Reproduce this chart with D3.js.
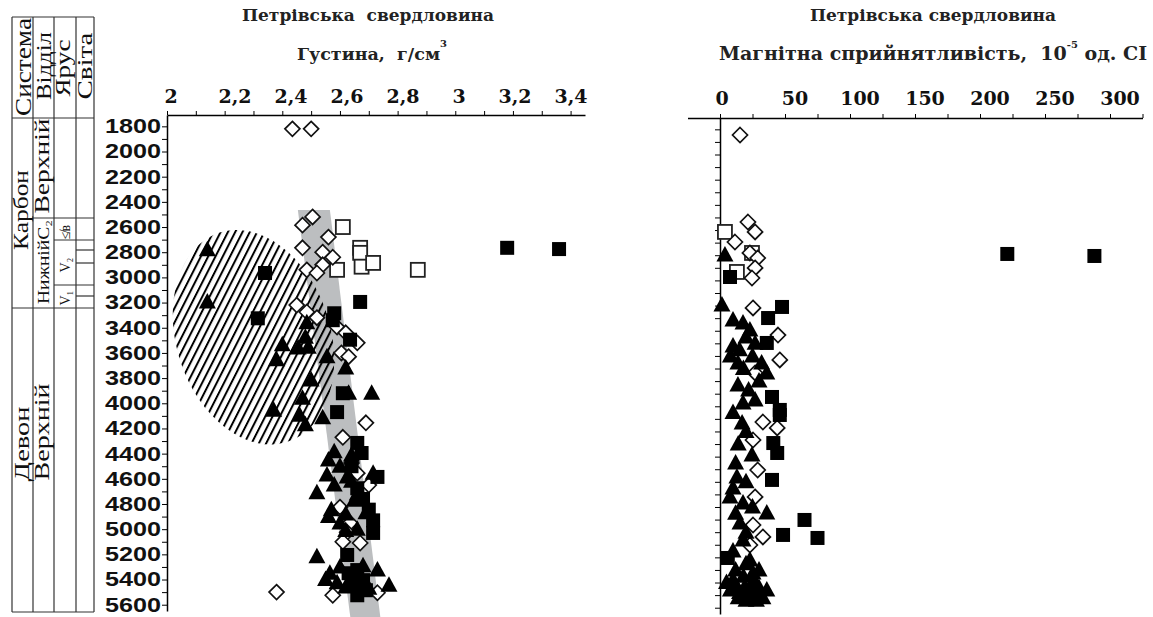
<!DOCTYPE html>
<html>
<head>
<meta charset="utf-8">
<title>Петрівська свердловина</title>
<script src="https://d3js.org/d3.v7.min.js"></script>
<style>
  body { margin: 0; background: #fff; }
  svg { font-family: "DejaVu Serif", serif; }
  .axis path, .axis line { stroke: #000; fill: none; }
  .axis path { stroke-width: 1.5; }
  .lbl { font-weight: bold; font-size: 19px; fill: #111; }
  .ylbl { font-weight: bold; font-size: 20px; fill: #111; }
  .col { font-family: "Liberation Serif", serif; fill: #111; }
  .ttl { font-weight: bold; fill: #222; white-space: pre; }
</style>
</head>
<body>
<script>
// ---- data ----
var depthTicks = d3.range(1800, 5601, 200);
var densTicks = [2, 2.2, 2.4, 2.6, 2.8, 3, 3.2, 3.4];
var densLabels = ["2", "2,2", "2,4", "2,6", "2,8", "3", "3,2", "3,4"];
var magTicks = [0, 50, 100, 150, 200, 250, 300];

// density (g/cm3) vs depth (m)
var densDiamonds = [[2.435,1820],[2.50,1820],
  [2.505,2520],[2.47,2585],[2.56,2680],[2.47,2765],[2.54,2800],[2.575,2840],[2.54,2900],[2.485,2940],[2.52,2965],
  [2.45,3220],[2.485,3275],[2.52,3320],[2.59,3395],[2.62,3440],[2.66,3520],[2.605,3600],[2.63,3630],
  [2.69,4155],[2.61,4270],[2.64,4475],[2.66,4555],[2.70,4650],[2.60,4825],[2.635,4950],[2.625,5025],[2.61,5100],[2.67,5110],
  [2.38,5500],[2.575,5525],[2.73,5505]];
var densOpenSq = [[2.61,2600],[2.67,2765],[2.67,2805],[2.675,2915],[2.715,2885],[2.59,2940],[2.87,2940]];
var densFilledSq = [[3.18,2765],[3.36,2775],[2.34,2965],[2.67,3195],[2.58,3285],[2.575,3340],[2.315,3325],[2.635,3495],
  [2.61,3920],[2.59,4070],[2.66,4315],[2.675,4395],[2.64,4500],[2.73,4585],[2.66,4675],[2.68,4760],[2.70,4845],
  [2.715,4930],[2.715,5030],[2.625,5205],[2.66,5325],[2.63,5350],[2.68,5405],[2.65,5430],[2.66,5525],[2.69,5485]];
var densTriangles = [[2.14,2780],[2.14,3195],[2.485,3360],[2.48,3475],[2.40,3535],[2.455,3560],[2.49,3555],[2.38,3655],
  [2.555,3630],[2.62,3720],[2.50,3815],[2.63,3920],[2.71,3920],[2.47,3960],[2.37,4055],[2.46,4095],[2.48,4170],[2.54,4115],
  [2.58,4385],[2.64,4410],[2.56,4450],[2.60,4500],[2.555,4570],[2.625,4585],[2.715,4555],[2.64,4620],[2.58,4650],
  [2.52,4710],[2.66,4720],[2.65,4770],[2.57,4845],[2.69,4870],[2.62,4880],[2.56,4900],[2.60,4950],[2.66,5000],
  [2.62,5010],[2.52,5220],[2.68,5290],[2.60,5300],[2.73,5325],[2.565,5350],[2.645,5380],[2.55,5400],[2.59,5425],
  [2.77,5445],[2.62,5460],[2.70,5470]];

// grey trend band and hatched field
var bandTop = 2465, bandBottom = 5700;
var bandTopX = [2.454, 2.565], bandBottomX = [2.636, 2.740];
var fieldCentre = [2.30, 3475];

// magnetic susceptibility (10^-5 SI) vs depth (m)
var magDiamonds = [[15.4,1845],[21.5,2536],[27,2615],[11.5,2695],[23,2782],[29,2822],[27,2901],[24.6,2981],[25.4,3219],
  [44.6,3434],[46,3632],[27,3735],[33,4125],[44,4172],[25.4,4268],[29,4506],[27,4720],[25.4,4943],[33,5038],[23,5102]];
var magOpenSq = [[3.8,2615],[24.6,2782],[13,2933]];
var magFilledSq = [[221,2790],[288,2806],[7.7,2973],[47.7,3211],[37,3299],[36,3497],[40,3926],[46,4029],[46,4069],
  [41,4292],[44,4371],[40,4585],[65,4903],[48.5,5022],[75,5046],[6,5205]];
var magTriangles = [[3.8,2798],[1.5,3195],[10,3314],[17.7,3338],[23,3394],[20,3450],[27,3500],[10,3521],[15,3550],
  [25,3600],[8,3600],[13.8,3656],[32,3656],[18,3700],[36,3735],[30,3800],[13.8,3831],[22,3870],[27,3950],[17.7,3974],
  [10,4050],[17,4133],[20,4200],[14,4300],[24.6,4387],[12,4450],[13,4562],[20,4600],[10,4650],[7.7,4720],[17.7,4768],
  [25,4800],[36,4848],[12,4850],[15.4,4927],[20,5000],[17.7,5062],[10,5150],[23,5221],[20,5250],[12,5300],[30,5300],
  [25.4,5324],[18,5350],[10,5380],[26,5380],[5,5400],[12,5420],[25,5420],[19,5435],[30,5440],[36,5459],[8,5460],
  [22,5460],[15,5480],[30,5500],[23,5515],[33,5520],[14,5520],[20,5540],[28,5540]];

// ---- layout ----
var W = 1153, H = 617;
var svg = d3.select("body").append("svg").attr("width", W).attr("height", H);

var y = d3.scaleLinear().domain([1710, 5650]).range([115, 611]);
var yR = d3.scaleLinear().domain([1710, 5650]).range([118, 614]);
var xD = d3.scaleLinear().domain([2, 3.45]).range([167, 585]);
var xDlab = d3.scaleLinear().domain([2.2, 3.4]).range([235, 571]);   // labels sit slightly off the ticks
var xM = d3.scaleLinear().domain([-25, 325]).range([687.5, 1142.5]);

// symbol helpers
function diamond(g, data, sx, sy) {
  g.selectAll(null).data(data).enter().append("path")
    .attr("d", "M0,-7.5L7.5,0L0,7.5L-7.5,0Z")
    .attr("transform", function (d) { return "translate(" + sx(d[0]) + "," + sy(d[1]) + ")"; })
    .attr("fill", "#fff").attr("stroke", "#111").attr("stroke-width", 1.7);
}
function square(g, data, sx, sy, filled) {
  g.selectAll(null).data(data).enter().append("rect")
    .attr("x", function (d) { return sx(d[0]) - 7; })
    .attr("y", function (d) { return sy(d[1]) - 7; })
    .attr("width", 14).attr("height", 14)
    .attr("fill", filled ? "#000" : "#fff")
    .attr("stroke", filled ? "none" : "#222").attr("stroke-width", 1.8);
}
function triangle(g, data, sx, sy) {
  g.selectAll(null).data(data).enter().append("path")
    .attr("d", "M0,-9L8.5,6.5L-8.5,6.5Z")
    .attr("transform", function (d) { return "translate(" + sx(d[0]) + "," + sy(d[1]) + ")"; })
    .attr("fill", "#000");
}

// ---- stratigraphic column ----
var colX = [12, 33, 54, 76, 94];
var strat = svg.append("g").attr("stroke", "#333").attr("stroke-width", 1.2);
colX.forEach(function (x) {
  strat.append("line").attr("x1", x).attr("x2", x).attr("y1", 17).attr("y2", 612);
});
[[17, 0, 4], [118, 0, 4], [308, 0, 4], [612, 0, 4], [218, 1, 4], [240, 2, 4], [285, 2, 4],
 [250, 3, 4], [263, 3, 4], [296, 3, 4]].forEach(function (h) {
  strat.append("line").attr("x1", colX[h[1]]).attr("x2", colX[h[2]]).attr("y1", h[0]).attr("y2", h[0]);
});

var colText = [
  ["Система", 31, 67, 98, 23], ["Відділ", 51, 66, 68, 22], ["Ярус", 70, 68, 57, 22], ["Світа", 92, 66, 67, 22],
  ["Карбон", 28, 210, 80, 22], ["Верхній", 49, 166, 95, 22], ["НижнійC₂", 49, 262, 84, 17],
  ["Девон", 29, 444, 75, 22], ["Верхній", 49, 432, 97, 22]
];
colText.forEach(function (t) {
  svg.append("text").attr("class", "col")
    .attr("transform", "translate(" + t[1] + "," + t[2] + ") rotate(-90)")
    .attr("text-anchor", "middle")
    .attr("textLength", t[3]).attr("lengthAdjust", "spacingAndGlyphs")
    .style("font-size", t[4] + "px")
    .text(t[0]);
});
[["V₁", 70, 298], ["V₂", 70, 265], ["≰в", 70, 232]].forEach(function (t) {
  svg.append("text").attr("class", "col")
    .attr("transform", "translate(" + t[1] + "," + t[2] + ") rotate(-90)")
    .attr("text-anchor", "middle").style("font-size", "14px").text(t[0]);
});

// ---- density panel ----
var gD = svg.append("g");

gD.append("path")
  .attr("d", d3.line()([[xD(bandTopX[0]), y(bandTop)], [xD(bandTopX[1]), y(bandTop)],
    [xD(bandBottomX[1]), y(bandBottom)], [xD(bandBottomX[0]), y(bandBottom)]]) + "Z")
  .attr("fill", "#bcbec0");

var defs = svg.append("defs");
defs.append("pattern").attr("id", "hatch").attr("patternUnits", "userSpaceOnUse")
  .attr("width", 6.5).attr("height", 6.5).attr("patternTransform", "rotate(-45)")
  .append("line").attr("x1", 1).attr("x2", 1).attr("y1", 0).attr("y2", 6.5)
  .attr("stroke", "#000").attr("stroke-width", 2);

gD.append("ellipse")
  .attr("rx", 110).attr("ry", 77)
  .attr("transform", "translate(" + xD(fieldCentre[0]) + "," + y(fieldCentre[1]) + ") rotate(72)")
  .attr("fill", "url(#hatch)");

gD.append("g").attr("class", "axis")
  .attr("transform", "translate(0," + y(1710) + ")")
  .call(d3.axisTop(xD).tickValues(d3.range(0, 15).map(function (i) { return 2 + i / 10; }))
    .tickSize(4).tickSizeOuter(0).tickFormat(""));
gD.append("g").attr("class", "axis")
  .attr("transform", "translate(" + xD(2) + ",0)")
  .call(d3.axisLeft(y).tickValues(d3.range(1800, 5601, 100)).tickSize(5).tickSizeOuter(0)
    .tickFormat(function (d) { return d % 200 === 0 ? d : ""; }))
  .selectAll("text").filter(function (d) { return d % 200 === 0; })
  .attr("class", "ylbl").attr("dx", 2)
  .attr("textLength", 56).attr("lengthAdjust", "spacingAndGlyphs");

gD.selectAll(".dlab").data(densTicks).enter().append("text").attr("class", "lbl")
  .attr("x", function (d, i) { return i === 0 ? xD(d) + 4 : xDlab(d); })
  .attr("y", 103).attr("text-anchor", "middle")
  .text(function (d, i) { return densLabels[i]; });

square(gD, densOpenSq, xD, y, false);
diamond(gD, densDiamonds, xD, y);
triangle(gD, densTriangles, xD, y);
square(gD, densFilledSq, xD, y, true);

svg.append("text").attr("class", "ttl").attr("x", 368).attr("y", 21)
  .attr("text-anchor", "middle").style("font-size", "17px").text("Петрівська  свердловина");
var t2 = svg.append("text").attr("class", "ttl").attr("x", 372).attr("y", 60)
  .attr("text-anchor", "middle").style("font-size", "17.5px");
t2.append("tspan").text("Густина,  г/см");
t2.append("tspan").attr("dy", -13).style("font-size", "10px").text("3");

// ---- magnetic susceptibility panel ----
var gM = svg.append("g");
gM.append("g").attr("class", "axis")
  .attr("transform", "translate(0," + yR(1710) + ")")
  .call(d3.axisTop(xM).tickValues(d3.range(0, 326, 25)).tickSize(4).tickSizeOuter(0).tickFormat(""));
gM.append("g").attr("class", "axis")
  .attr("transform", "translate(" + xM(0) + ",0)")
  .call(d3.axisLeft(yR).tickValues(d3.range(1800, 5601, 100)).tickSize(5).tickSizeOuter(0).tickFormat(""));

gM.selectAll(".mlab").data(magTicks).enter().append("text").attr("class", "lbl")
  .attr("x", function (d, i) { return xM(d) + (i === 0 ? 2 : 10); })
  .attr("y", 105).attr("text-anchor", "middle")
  .text(function (d) { return d; });

square(gM, magOpenSq, xM, yR, false);
diamond(gM, magDiamonds, xM, yR);
triangle(gM, magTriangles, xM, yR);
square(gM, magFilledSq, xM, yR, true);

svg.append("text").attr("class", "ttl").attr("x", 933).attr("y", 21)
  .attr("text-anchor", "middle").style("font-size", "17px").text("Петрівська свердловина");
var t3 = svg.append("text").attr("class", "ttl").attr("x", 933).attr("y", 60)
  .attr("text-anchor", "middle").style("font-size", "19px");
t3.append("tspan").text("Магнітна сприйнятливість,  10");
t3.append("tspan").attr("dy", -12).style("font-size", "10px").text("-5");
t3.append("tspan").attr("dy", 12).text(" од. СІ");
</script>
</body>
</html>
